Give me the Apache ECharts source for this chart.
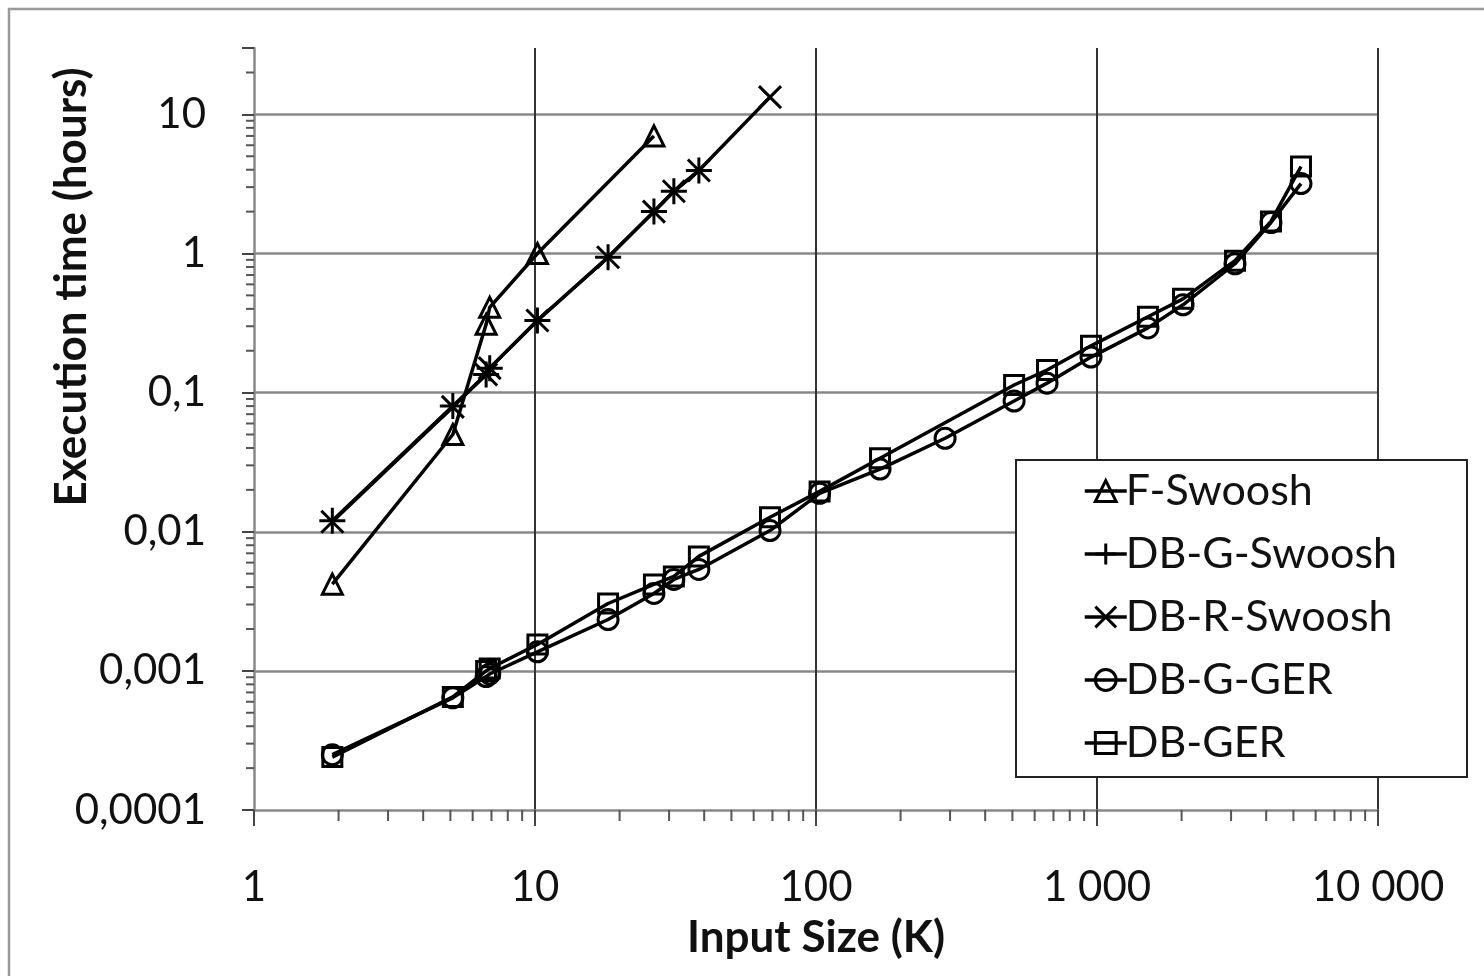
<!DOCTYPE html>
<html>
<head>
<meta charset="utf-8">
<script src="https://cdn.jsdelivr.net/npm/echarts@6/dist/echarts.min.js"></script>
<style>
    html, body { margin: 0; padding: 0; background: #fff; }
    #chart { width: 1484px; height: 976px; }
</style>
</head>
<body>
<div id="chart"></div>
<script>
// values (input size in K, time in hours)
var xF = [1.9, 5.1, 6.7, 6.9, 10.2, 26.5];
var yF = [0.0042, 0.05, 0.31, 0.41, 1.0, 7.0];

var xGSwoosh = [1.9, 5.1, 6.7, 6.9, 10.2, 18.2, 26.5, 31.2, 38.3];
var yGSwoosh = [0.012, 0.08, 0.135, 0.15, 0.33, 0.94, 2.0, 2.8, 3.95];

var xRSwoosh = [1.9, 5.1, 6.7, 6.9, 10.2, 18.2, 26.5, 31.2, 38.3, 68.6];
var yRSwoosh = [0.0118, 0.079, 0.135, 0.15, 0.33, 0.94, 2.0, 2.8, 3.95, 13.3];

var xGGer = [1.9, 5.1, 6.7, 6.9, 10.2, 18.2, 26.5, 31.2, 38.3, 68.6, 103, 169, 288, 507, 664, 952, 1518, 2024, 3098, 4160, 5320];
var yGGer = [0.00025, 0.00064, 0.00091, 0.00095, 0.00137, 0.00234, 0.0036, 0.00454, 0.00536, 0.0102, 0.0189, 0.0282, 0.047, 0.087, 0.117, 0.18, 0.292, 0.428, 0.844, 1.67, 3.18];

var xGer = [1.9, 5.1, 6.7, 6.9, 10.2, 18.2, 26.5, 31.2, 38.3, 68.6, 103, 169, 507, 664, 952, 1518, 2024, 3098, 4160, 5320];
var yGer = [0.00024, 0.00065, 0.001, 0.00104, 0.00155, 0.00305, 0.00418, 0.00477, 0.00665, 0.0127, 0.0195, 0.0338, 0.1135, 0.1455, 0.217, 0.351, 0.472, 0.888, 1.7, 4.22];

var seriesNames = ['F-Swoosh', 'DB-G-Swoosh', 'DB-R-Swoosh', 'DB-G-GER', 'DB-GER'];

var xTickValues = [1, 10, 100, 1000, 10000];
var xTickLabels = ['1', '10', '100', '1 000', '10 000'];
var yTickValues = [0.0001, 0.001, 0.01, 0.1, 1, 10];
var yTickLabels = ['0,0001', '0,001', '0,01', '0,1', '1', '10'];

var minorSteps = [2, 3, 4, 5, 6, 7, 8, 9];
var xMinorDecades = [1, 10, 100, 1000];
var yMinorDecades = [0.0001, 0.001, 0.01, 0.1, 1, 10];

var xMin = 1, xMax = 10000, yMin = 0.0001, yMax = 30;

var font = 'Lato, "Open Sans", "Liberation Sans", sans-serif';

function pairs(xs, ys) {
    var out = [];
    for (var i = 0; i < xs.length; i++) out.push([xs[i], ys[i]]);
    return out;
}

function labelFor(values, labels) {
    return function (v) {
        var lv = Math.log10(v);
        for (var i = 0; i < values.length; i++) {
            if (Math.abs(Math.log10(values[i]) - lv) < 1e-6) return labels[i];
        }
        return '';
    };
}

// minor tick positions (2..9 in each decade)
var xMinor = [];
xMinorDecades.forEach(function (d) {
    minorSteps.forEach(function (s) { xMinor.push([d * s, yMin]); });
});
var yMinor = [];
yMinorDecades.forEach(function (d) {
    minorSteps.forEach(function (s) {
        if (d * s < yMax) yMinor.push([xMin, d * s]);
    });
});

function lineSeries(name, data, symbol, size) {
    return {
        name: name,
        type: 'line',
        data: data,
        symbol: symbol,
        symbolSize: size,
        showAllSymbol: true,
        lineStyle: { color: '#000', width: 3.5 },
        itemStyle: { color: 'transparent', borderColor: '#000', borderWidth: 3 },
        emphasis: { disabled: true },
        z: 2
    };
}

var chart = echarts.init(document.getElementById('chart'));
chart.setOption({
    animation: false,
    backgroundColor: '#fff',
    textStyle: { fontFamily: font },
    grid: { left: 254, right: 106, top: 48, bottom: 166, containLabel: false },
    xAxis: {
        type: 'log',
        logBase: 10,
        min: xMin,
        max: xMax,
        name: 'Input Size (K)',
        nameLocation: 'middle',
        nameGap: 106,
        nameTextStyle: { fontSize: 44, fontWeight: 'bold', color: '#111', fontFamily: font },
        axisLine: { lineStyle: { color: '#888', width: 2.5 } },
        axisTick: { show: true, length: 16, lineStyle: { color: '#444', width: 2 } },
        axisLabel: { margin: 56, fontSize: 42, color: '#111', formatter: labelFor(xTickValues, xTickLabels) },
        splitLine: { show: true, showMinLine: false, lineStyle: { color: '#333', width: 2 } }
    },
    yAxis: {
        type: 'log',
        logBase: 10,
        min: yMin,
        max: yMax,
        axisLine: { show: true, lineStyle: { color: '#888', width: 2.5 } },
        axisTick: { show: true, length: 12, lineStyle: { color: '#444', width: 2 } },
        axisLabel: { margin: 48, fontSize: 42, color: '#111', formatter: labelFor(yTickValues, yTickLabels) },
        splitLine: { show: true, showMinLine: false, showMaxLine: false, lineStyle: { color: '#888', width: 2.5 } }
    },
    legend: {
        data: seriesNames,
        orient: 'vertical',
        left: 1083,
        top: 469,
        itemWidth: 42,
        itemHeight: 26,
        itemGap: 19,
        padding: 0,
        z: 10,
        selectedMode: false,
        itemStyle: { color: 'transparent', borderColor: '#000', borderWidth: 3 },
        lineStyle: { color: '#000', width: 3.5 },
        textStyle: { fontSize: 43, color: '#111', fontFamily: font, lineHeight: 44, padding: [0, 0, 0, -6] }
    },
    graphic: [
        {
            type: 'rect',
            shape: { x: 9, y: 9, width: 1500, height: 1000 },
            style: { fill: 'none', stroke: '#999', lineWidth: 2.5 },
            z: 1,
            silent: true
        },
        {
            type: 'rect',
            shape: { x: 1016, y: 460, width: 451, height: 317 },
            style: { fill: '#fff', stroke: '#222', lineWidth: 2 },
            z: 3,
            silent: true
        },
        {
            type: 'text',
            x: 72,
            y: 287,
            rotation: Math.PI / 2,
            style: {
                text: 'Execution time (hours)',
                fontSize: 44,
                fontWeight: 'bold',
                fontFamily: font,
                fill: '#111',
                align: 'center',
                verticalAlign: 'middle'
            },
            silent: true
        }
    ],
    series: [
        lineSeries('F-Swoosh', pairs(xF, yF), 'triangle', 20),
        lineSeries('DB-G-Swoosh', pairs(xGSwoosh, yGSwoosh), 'path://M0,5L10,5M5,0L5,10', 26),
        lineSeries('DB-R-Swoosh', pairs(xRSwoosh, yRSwoosh), 'path://M0,0L10,10M10,0L0,10', 22),
        lineSeries('DB-G-GER', pairs(xGGer, yGGer), 'circle', 20),
        lineSeries('DB-GER', pairs(xGer, yGer), 'rect', 19),
        {
            type: 'custom',
            silent: true,
            clip: false,
            data: xMinor,
            renderItem: function (params, api) {
                var p = api.coord([api.value(0), api.value(1)]);
                return { type: 'line', shape: { x1: p[0], y1: p[1], x2: p[0], y2: p[1] + 11 }, style: { stroke: '#555', lineWidth: 2 } };
            }
        },
        {
            type: 'custom',
            silent: true,
            clip: false,
            data: yMinor,
            renderItem: function (params, api) {
                var p = api.coord([api.value(0), api.value(1)]);
                return { type: 'line', shape: { x1: p[0] - 8, y1: p[1], x2: p[0], y2: p[1] }, style: { stroke: '#555', lineWidth: 2 } };
            }
        }
    ]
});
</script>
</body>
</html>
